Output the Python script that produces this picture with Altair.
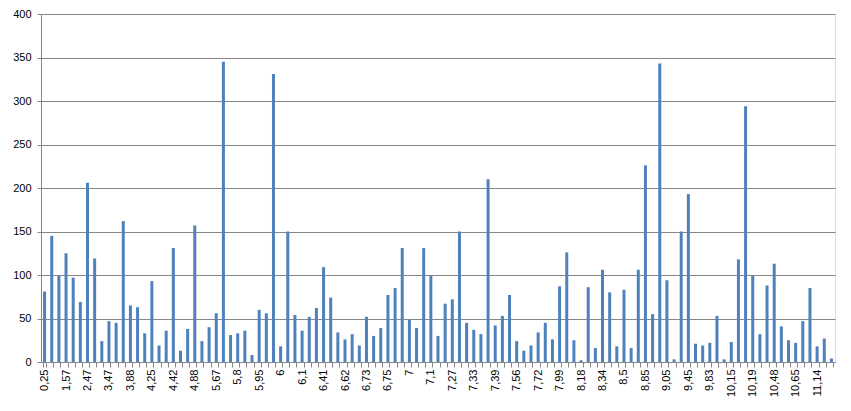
import json
import altair as alt
import pandas as pd

# x-axis labels shown on every third category (bar 1, 4, 7, ...)
labels = ["0,25", "1,57", "2,47", "3,47", "3,88", "4,25", "4,42", "4,88", "5,67", "5,8",
          "5,95", "6", "6,1", "6,41", "6,62", "6,73", "6,75", "7", "7,1", "7,27",
          "7,33", "7,39", "7,56", "7,72", "7,99", "8,18", "8,34", "8,5", "8,85", "9,05",
          "9,45", "9,83", "10,15", "10,19", "10,48", "10,65", "11,14"]

# bar heights, read left to right
values = [81, 145, 99, 125, 97, 69, 206, 119, 24, 47,
          45, 162, 65, 63, 33, 93, 19, 36, 131, 13,
          38, 157, 24, 40, 56, 345, 31, 33, 36, 8,
          60, 56, 331, 18, 150, 54, 36, 52, 62, 109,
          74, 34, 26, 32, 19, 52, 30, 39, 77, 85,
          131, 49, 39, 131, 99, 30, 67, 72, 150, 45,
          37, 32, 210, 42, 53, 77, 24, 13, 19, 34,
          45, 26, 87, 126, 25, 2, 86, 16, 106, 80,
          18, 83, 16, 106, 226, 55, 343, 94, 3, 150,
          193, 21, 19, 22, 53, 3, 23, 118, 294, 99,
          32, 88, 113, 41, 25, 22, 47, 85, 18, 27, 4]

df = pd.DataFrame({"i": list(range(len(values))), "v": values})

lab_js = json.dumps(labels)
label_expr = f"datum.value % 3 == 0 ? {lab_js}[datum.value / 3] : ''"

gray = "#868686"

chart = alt.Chart(df).mark_bar(color="#4F81BD").encode(
    x=alt.X("i:O",
            scale=alt.Scale(domain=list(range(len(values))), paddingInner=0.58, paddingOuter=0.29),
            axis=alt.Axis(title=None, labelAngle=-90, labelExpr=label_expr, labelOverlap=False,
                          tickBand="extent", tickSize=5, tickColor=gray, domainColor=gray,
                          labelPadding=2, labelFont="Liberation Sans", labelFontSize=11,
                          labelColor="#000000")),
    y=alt.Y("v:Q",
            scale=alt.Scale(domain=[0, 400], nice=False),
            axis=alt.Axis(title=None, values=list(range(0, 401, 50)), grid=True, gridColor=gray,
                          gridWidth=1, gridOpacity=1, tickSize=4, tickColor=gray, domainColor=gray,
                          labelPadding=6, labelFont="Liberation Sans", labelFontSize=11,
                          labelColor="#000000")),
).properties(
    width=794, height=348,
    autosize=alt.AutoSizeParams(type="none"),
    padding={"left": 33, "top": 6, "right": 8, "bottom": 40},
).configure_view(stroke=None).configure(background="white")

chart.save("out.html", embed_options={"renderer": "svg", "actions": False})
